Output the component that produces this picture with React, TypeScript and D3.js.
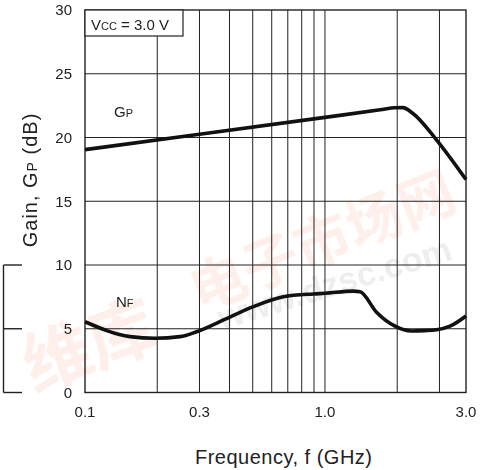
import * as d3 from 'd3';

// x axis runs a little past 3 GHz; the "3.0" label sits on the right edge
const X_MIN = 0.1;
const X_MAX = 3.87;
const xGrid = [0.2, 0.3, 0.4, 0.5, 0.6, 0.7, 0.8, 0.9, 1.0, 2.0, 3.0];
const xTickValues = [0.1, 0.3, 1.0, X_MAX];
const xTickLabels = ['0.1', '0.3', '1.0', '3.0'];
const yTicks = [0, 5, 10, 15, 20, 25, 30];

// Gain Gp (dB)
const gpFreq = [0.1, 0.3, 1.0, 1.7, 1.96, 2.11, 2.32, 2.92, 3.87];
const gpGain = [19.05, 20.25, 21.58, 22.17, 22.33, 22.34, 21.9, 19.8, 16.7];

// Noise figure NF (dB)
const nfFreq = [0.1, 0.154, 0.196, 0.249, 0.292, 0.389, 0.503, 0.67, 0.894, 1.0, 1.31, 1.4, 1.64, 1.96, 2.29, 2.6, 2.92, 3.32, 3.87];
const nfVal = [5.55, 4.38, 4.25, 4.38, 4.77, 5.8, 6.73, 7.51, 7.73, 7.78, 7.95, 7.9, 6.3, 5.2, 4.82, 4.85, 4.92, 5.2, 6.0];

const FONT = '"Liberation Sans", Arial, Helvetica, sans-serif';

export default function App() {
  const width = 481;
  const height = 470;
  const margin = { top: 10, right: 15, bottom: 77.5, left: 85 };
  const innerW = width - margin.left - margin.right;
  const innerH = height - margin.top - margin.bottom;

  const x = d3.scaleLog().domain([X_MIN, X_MAX]).range([0, innerW]);
  const y = d3.scaleLinear().domain([0, 30]).range([innerH, 0]);

  const line = d3
    .line<[number, number]>()
    .x(d => x(d[0]))
    .y(d => y(d[1]))
    .curve(d3.curveMonotoneX);

  const gpPath = line(gpFreq.map((f, i) => [f, gpGain[i]] as [number, number])) ?? '';
  const nfPath = line(nfFreq.map((f, i) => [f, nfVal[i]] as [number, number])) ?? '';

  // left bracket: cropped NF scale, spans 0..10 on the gain axis
  const bracketTicks = [0, 5, 10];

  return (
    <svg
      width={width}
      height={height}
      style={{ position: 'absolute', left: 0, top: 0, background: '#fff' }}
      fontFamily={FONT}
    >
      {/* faint watermark */}
      <g opacity={0.12} fontFamily='"Noto Sans CJK SC", sans-serif' fontWeight="bold" fill="#f07a50">
        <text x={34} y={392} fontSize={68} transform="rotate(-20 34 392)">维库</text>
        <text x={200} y={312} fontSize={56} transform="rotate(-22 200 312)">电子市场网</text>
      </g>
      <text
        x={222}
        y={330}
        fontSize={34}
        fontWeight="bold"
        fill="#b0b0b0"
        opacity={0.22}
        transform="rotate(-17 222 330)"
      >
        www.dzsc.com
      </text>

      <g transform={`translate(${margin.left},${margin.top})`}>
        {/* horizontal grid */}
        {yTicks.slice(1, -1).map(t => (
          <line key={`h${t}`} x1={0} x2={innerW} y1={y(t)} y2={y(t)} stroke="#222" strokeWidth={1} />
        ))}
        {/* vertical grid */}
        {xGrid.map(t => (
          <line key={`v${t}`} x1={x(t)} x2={x(t)} y1={0} y2={innerH} stroke="#222" strokeWidth={1} />
        ))}
        <rect x={0} y={0} width={innerW} height={innerH} fill="none" stroke="#222" strokeWidth={1.4} />

        {/* curves */}
        <path d={gpPath} fill="none" stroke="#111" strokeWidth={3.6} strokeLinejoin="round" />
        <path d={nfPath} fill="none" stroke="#111" strokeWidth={3.6} strokeLinejoin="round" />

        {/* y tick labels */}
        {yTicks.map(t => (
          <text key={`yl${t}`} x={-13} y={y(t)} dy="0.36em" textAnchor="end" fontSize={15} fill="#222">
            {t}
          </text>
        ))}
        {/* x tick labels */}
        {xTickValues.map((t, i) => (
          <text key={`xl${i}`} x={x(t)} y={innerH + 24} textAnchor="middle" fontSize={15} fill="#222">
            {xTickLabels[i]}
          </text>
        ))}

        {/* condition box */}
        <rect x={0} y={0} width={98} height={26} fill="#fff" stroke="#222" strokeWidth={1.2} />
        <text x={6} y={20} fontSize={15} fill="#222">
          V<tspan fontSize={11}>CC</tspan> = 3.0 V
        </text>

        {/* curve labels */}
        <text x={29} y={107} fontSize={15} fill="#222">
          G<tspan fontSize={11}>P</tspan>
        </text>
        <text x={31} y={297} fontSize={15} fill="#222">
          N<tspan fontSize={11}>F</tspan>
        </text>
      </g>

      {/* left bracket */}
      <g stroke="#222" strokeWidth={1.4}>
        <line x1={3.5} x2={3.5} y1={margin.top + y(10)} y2={margin.top + y(0)} />
        {bracketTicks.map(t => (
          <line key={`b${t}`} x1={3.5} x2={22} y1={margin.top + y(t)} y2={margin.top + y(t)} />
        ))}
      </g>

      {/* axis titles */}
      <text
        transform={`translate(37,${180}) rotate(-90)`}
        textAnchor="middle"
        fontSize={20}
        letterSpacing={1}
        fill="#222"
      >
        Gain, G<tspan fontSize={14}>P</tspan> (dB)
      </text>
      <text x={283.5} y={464} textAnchor="middle" fontSize={20} textLength={177} fill="#222">
        Frequency, f (GHz)
      </text>
    </svg>
  );
}
